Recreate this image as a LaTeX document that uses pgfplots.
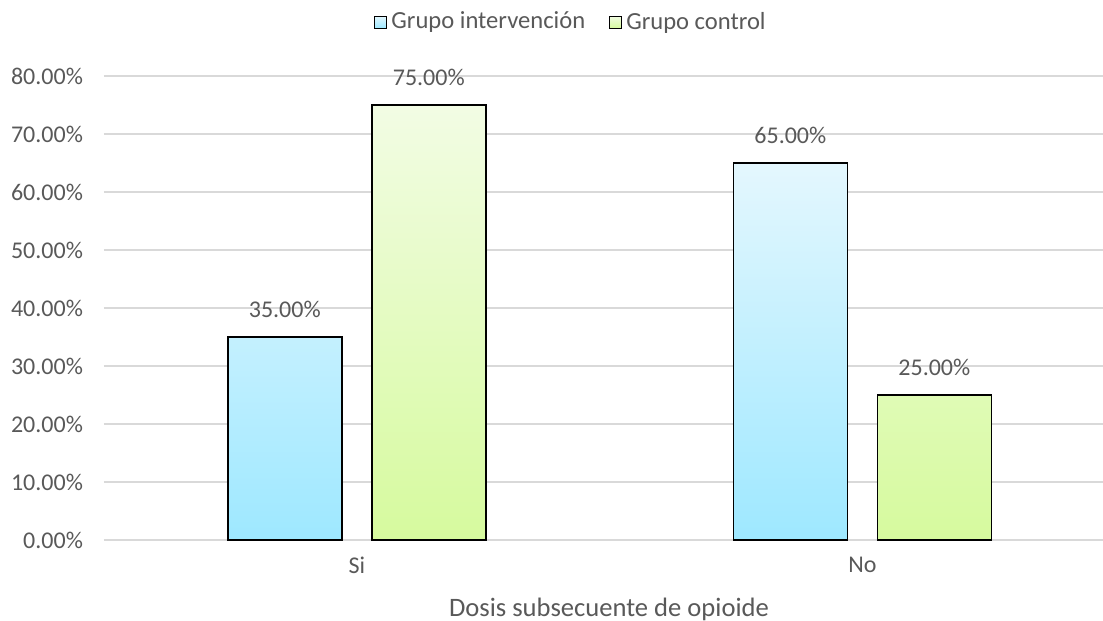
\documentclass[border=0pt]{standalone}
\usepackage{pgfplots}
\pgfplotsset{compat=1.18}
\usepackage{fontspec}
\setmainfont{Carlito}
\definecolor{txt}{RGB}{89,89,89}
\definecolor{grid}{RGB}{217,217,217}
\definecolor{btop}{RGB}{228,247,254}
\definecolor{bbot}{RGB}{158,232,255}
\definecolor{gtop}{RGB}{242,252,228}
\definecolor{gbot}{RGB}{214,250,158}
\begin{document}
\begin{tikzpicture}
\path[use as bounding box] (0,0) rectangle (551.5pt,310.5pt);
\begin{axis}[
  at={(52pt,40.5pt)}, anchor=south west,
  scale only axis, width=499.5pt, height=232pt,
  ybar, bar width=0.2255,
  xmin=-0.5, xmax=1.476, ymin=0, ymax=80,
  xtick={0,1}, xticklabels={Si,No},
  ytick={0,10,...,80},
  yticklabel={\pgfmathprintnumber[fixed,fixed zerofill,precision=2]{\tick}\%},
  /pgf/number format/assume math mode=true,
  axis y line*=left, axis x line*=bottom,
  y axis line style={draw=none},
  x axis line style={draw=grid, line width=0.75pt},
  major tick length=0pt,
  ymajorgrids, grid style={draw=grid, line width=0.75pt},
  tick label style={font=\fontsize{12}{14}\selectfont, text=txt},
  yticklabel style={xshift=-7pt},
  xticklabel style={yshift=-5pt},
  xlabel={Dosis subsecuente de opioide},
  xlabel style={font=\fontsize{13.3}{15}\selectfont, text=txt, at={(axis description cs:0.5055,0)}, anchor=base, yshift=-38pt},
  clip=false,
  nodes near coords={\pgfmathprintnumber[fixed,fixed zerofill,precision=2]{\pgfplotspointmeta}\%},
  every node near coord/.append style={font=\fontsize{12}{14}\selectfont, text=txt, anchor=base, yshift=10pt},
  legend style={at={(axis description cs:0.4685,1)}, anchor=center, yshift=27pt, draw=none, legend columns=2, font=\fontsize{12.3}{14}\selectfont, text=txt, /tikz/every even column/.append style={column sep=10pt}, /tikz/every odd column/.append style={column sep=0pt}},
  legend cell align=left,
  legend image code/.code={\draw[#1, draw=black, line width=0.5pt] (0pt,-3pt) rectangle (6pt,3pt);},
]
\addplot[bar shift=-0.1424, draw=black, line width=0.75pt, top color=btop, bottom color=bbot] coordinates {(0,35) (1,65)};
\addplot[bar shift=0.1424, draw=black, line width=0.75pt, top color=gtop, bottom color=gbot] coordinates {(0,75) (1,25)};
\legend{Grupo intervención, Grupo control}
\end{axis}
\end{tikzpicture}
\end{document}
